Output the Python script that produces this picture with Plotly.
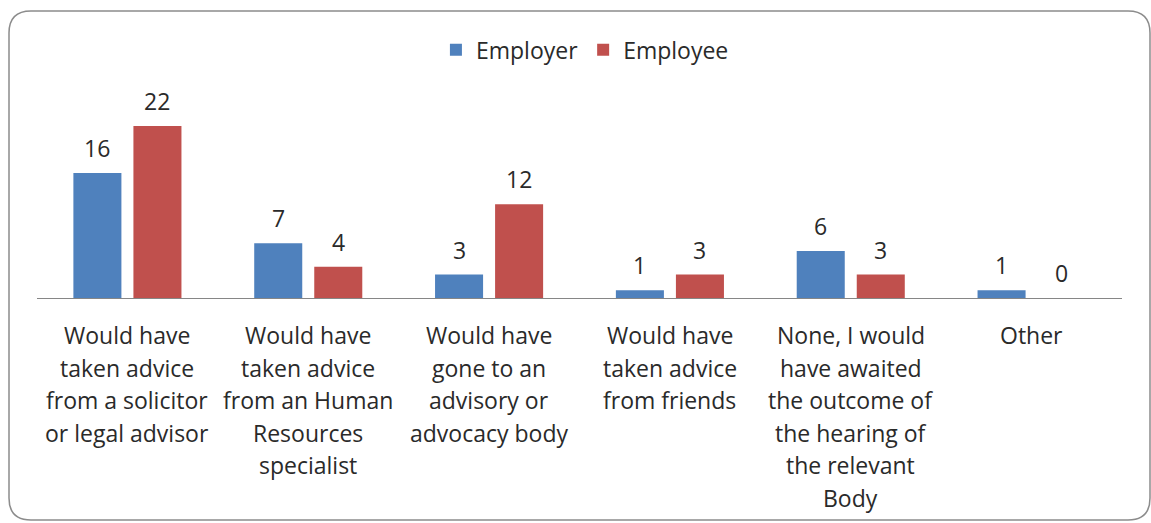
import plotly.graph_objects as go

# Survey responses by category
categories = [
    "Would have<br>taken advice<br>from a solicitor<br>or legal advisor",
    "Would have<br>taken advice<br>from an Human<br>Resources<br>specialist",
    "Would have<br>gone to an<br>advisory or<br>advocacy body",
    "Would have<br>taken advice<br>from friends",
    "None, I would<br>have awaited<br>the outcome of<br>the hearing of<br>the relevant<br>Body",
    "Other",
]
employer = [16, 7, 3, 1, 6, 1]
employee = [22, 4, 12, 3, 3, 0]

series_names = ["Employer", "Employee"]
series_colors = ["#4F81BD", "#C0504D"]

FONT = "Open Sans"
LABEL_SIZE = 23
VALUE_SIZE = 23
LEGEND_SIZE = 23
TEXT_COLOR = "#2A2A2A"

x_idx = list(range(len(categories)))

fig = go.Figure()
for name, vals, col in zip(series_names, [employer, employee], series_colors):
    fig.add_trace(go.Bar(
        x=x_idx, y=vals, name=name,
        marker=dict(color=col, line=dict(width=0)),
        hoverinfo="x+y+name",
    ))

# value labels above each bar
bar_shift = 30
for vals, dx in zip([employer, employee], [-bar_shift, bar_shift]):
    for i, v in enumerate(vals):
        fig.add_annotation(
            x=i, y=v, xref="x", yref="y", text=str(v), showarrow=False,
            xshift=dx, yshift=25, yanchor="middle",
            font=dict(family=FONT, size=VALUE_SIZE, color=TEXT_COLOR),
        )

# multi-line category labels below the axis
line_gap = 32.5
for i, lab in enumerate(categories):
    for k, line in enumerate(lab.split("<br>")):
        fig.add_annotation(
            x=i, y=0, xref="x", yref="y", text=line, showarrow=False,
            yshift=-37 - k * line_gap, yanchor="middle",
            font=dict(family=FONT, size=LABEL_SIZE, color=TEXT_COLOR),
        )

# rounded chart border, in pixels relative to the plot's bottom-left corner
x0, x1, y0, y1, r = -28, 1113, -222, 287, 22
border = (
    f"M{x0 + r},{y1} L{x1 - r},{y1} Q{x1},{y1} {x1},{y1 - r} "
    f"L{x1},{y0 + r} Q{x1},{y0} {x1 - r},{y0} "
    f"L{x0 + r},{y0} Q{x0},{y0} {x0},{y0 + r} "
    f"L{x0},{y1 - r} Q{x0},{y1} {x0 + r},{y1} Z"
)
fig.add_shape(
    type="path", path=border,
    xref="paper", yref="paper", xsizemode="pixel", ysizemode="pixel",
    xanchor=0, yanchor=0,
    line=dict(color="#8C8C8C", width=1.5), fillcolor="rgba(0,0,0,0)",
    layer="below",
)

fig.update_layout(
    width=1151, height=523,
    margin=dict(l=37, r=29, t=80, b=225),
    paper_bgcolor="white", plot_bgcolor="white",
    barmode="group", bargap=0.336, bargroupgap=0.2,
    showlegend=True,
    legend=dict(
        orientation="h", x=0.505, xanchor="center", y=1.138, yanchor="middle",
        yref="paper", font=dict(family=FONT, size=LEGEND_SIZE, color=TEXT_COLOR),
        itemwidth=30, traceorder="normal",
    ),
    font=dict(family=FONT, size=LABEL_SIZE, color=TEXT_COLOR),
    xaxis=dict(
        range=[-0.5, len(categories) - 0.5], showticklabels=False,
        showline=True, linecolor="#868686", linewidth=1,
        showgrid=False, zeroline=False, ticks="",
    ),
    yaxis=dict(
        range=[0, 27.885], visible=False, showgrid=False, zeroline=False,
    ),
)

fig.write_html("out.html")
